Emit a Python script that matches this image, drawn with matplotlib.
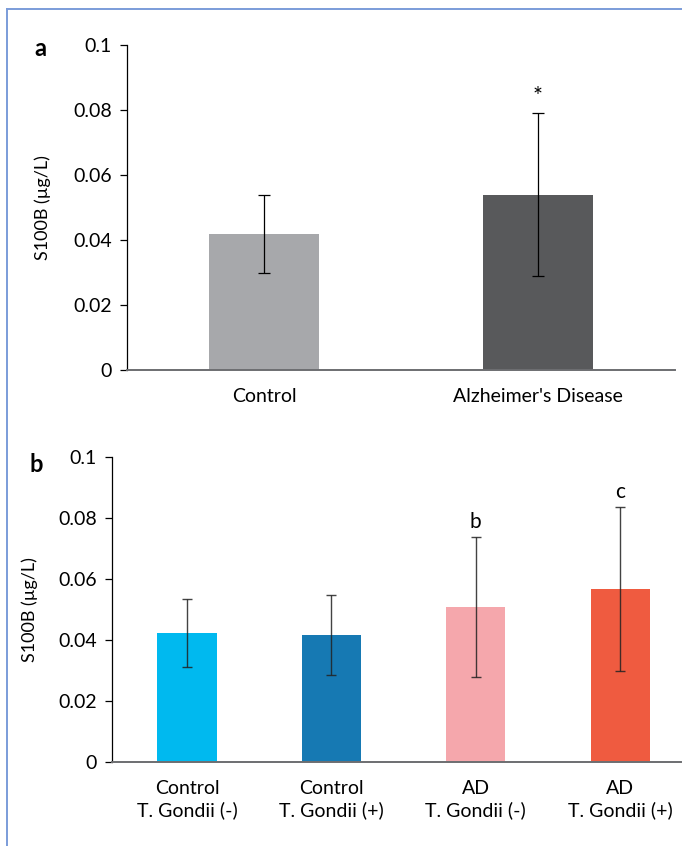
import matplotlib
matplotlib.use("Agg")
import matplotlib.pyplot as plt
from matplotlib.lines import Line2D

plt.rcParams['font.family'] = ['Lato', 'DejaVu Sans']

# panel a
groups_a = ["Control", "Alzheimer's Disease"]
means_a = [0.042, 0.054]
err_a = [0.012, 0.025]
colors_a = ["#a7a8ab", "#58595b"]

# panel b
groups_b = ["Control\nT. Gondii (-)", "Control\nT. Gondii (+)",
            "AD\nT. Gondii (-)", "AD\nT. Gondii (+)"]
means_b = [0.0423, 0.0416, 0.0508, 0.0567]
err_b = [0.011, 0.013, 0.023, 0.027]
colors_b = ["#00b9ef", "#1679b3", "#f5a7ac", "#ef5b40"]
marks_b = ["", "", "b", "c"]

yticks = [0, 0.02, 0.04, 0.06, 0.08, 0.1]
ytick_labels = ["0", "0.02", "0.04", "0.06", "0.08", "0.1"]

fig = plt.figure(figsize=(6.82, 8.46), dpi=100)

def style(ax):
    ax.set_ylim(0, 0.1)
    ax.set_yticks(yticks)
    ax.set_yticklabels(ytick_labels)
    ax.spines['top'].set_visible(False)
    ax.spines['right'].set_visible(False)
    ax.spines['left'].set_linewidth(0.9)
    ax.spines['bottom'].set_color("#6d6e71")
    ax.spines['bottom'].set_linewidth(1.4)
    ax.tick_params(axis='y', length=5, width=0.9, labelsize=14, pad=6)
    ax.tick_params(axis='x', length=0, labelsize=14, pad=13)
    ax.set_ylabel("S100B (µg/L)", fontsize=13)

ax1 = fig.add_axes([0.1862, 0.5626, 0.8035, 0.3842])
x1 = range(len(groups_a))
ax1.bar(x1, means_a, width=0.4, color=colors_a, zorder=2)
ax1.errorbar(x1, means_a, yerr=err_a, fmt='none', ecolor='black',
             elinewidth=0.9, capsize=4, capthick=0.9, zorder=3)
ax1.set_xlim(-0.5, 1.5)
ax1.set_xticks(list(x1))
ax1.set_xticklabels(groups_a)
style(ax1)
ax1.yaxis.set_label_coords(-0.138, 0.5)
ax1.text(1, means_a[1] + err_a[1] + 0.0052, "*", ha='center', va='center', fontsize=17)
fig.text(0.05, 0.943, "a", fontsize=17, fontweight='bold', ha='left', va='center')

ax2 = fig.add_axes([0.1642, 0.0993, 0.834, 0.3605])
x2 = range(len(groups_b))
ax2.bar(x2, means_b, width=0.41, color=colors_b, zorder=2)
ax2.errorbar(x2, means_b, yerr=err_b, fmt='none', ecolor='#222222', alpha=0.85,
             elinewidth=1.0, capsize=3.5, capthick=1.0, zorder=3)
ax2.set_xlim(-0.52, 3.42)
ax2.set_xticks(list(x2))
ax2.set_xticklabels(groups_b, linespacing=1.3)
style(ax2)
ax2.yaxis.set_label_coords(-0.13, 0.5)
for i, m in enumerate(marks_b):
    if m:
        ax2.text(i, means_b[i] + err_b[i] + 0.0048, m, ha='center', va='center', fontsize=15)
fig.text(0.043, 0.451, "b", fontsize=17, fontweight='bold', ha='left', va='center')

# frame on the left and top
border = "#7b9cd9"
fig.add_artist(Line2D([0.0105, 0.0105], [0, 0.9895], color=border, lw=1.4))
fig.add_artist(Line2D([0.0105, 1.0], [0.9895, 0.9895], color=border, lw=1.4))

fig.savefig("out.png", dpi=100)
